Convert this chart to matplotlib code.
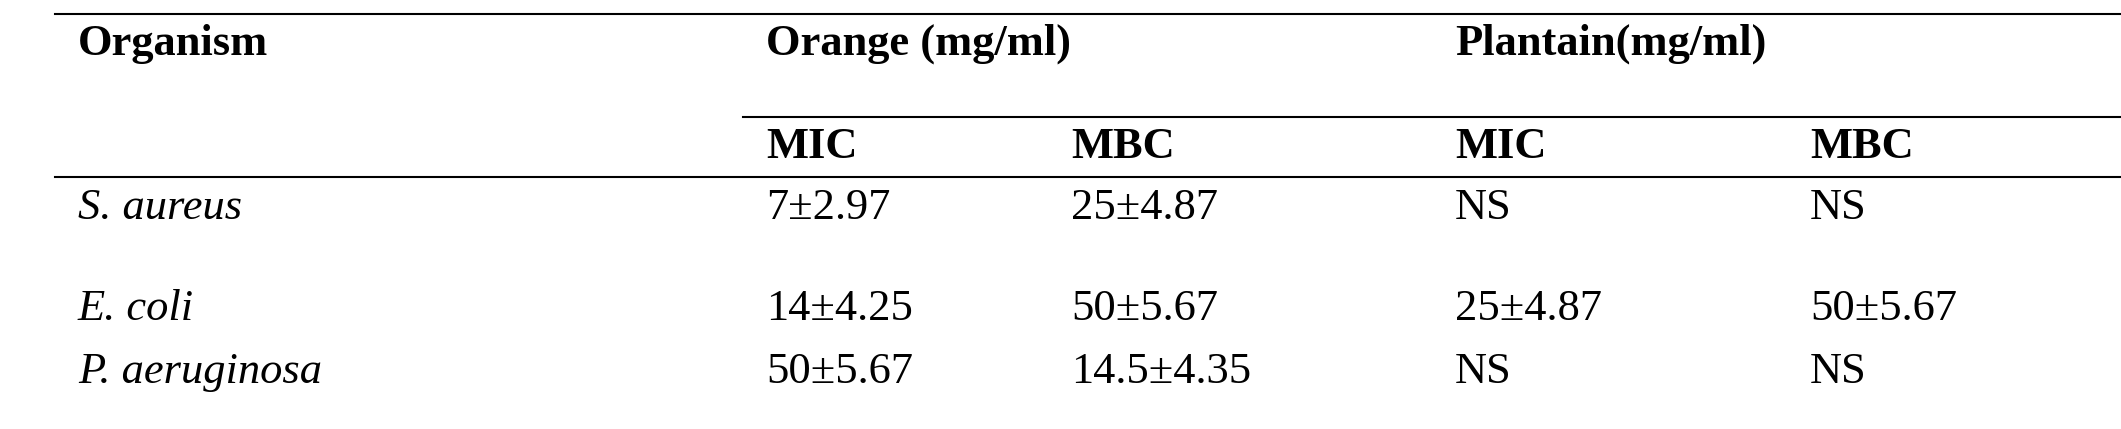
import matplotlib
matplotlib.use("Agg")
import matplotlib.pyplot as plt

groups = ["Orange (mg/ml)", "Plantain(mg/ml)"]
subcols = ["MIC", "MBC", "MIC", "MBC"]
organisms = ["S. aureus", "E. coli", "P. aeruginosa"]
values = [
    ["7±2.97", "25±4.87", "NS", "NS"],
    ["14±4.25", "50±5.67", "25±4.87", "50±5.67"],
    ["50±5.67", "14.5±4.35", "NS", "NS"],
]

W, H = 2121, 429
fig = plt.figure(figsize=(W/100, H/100), dpi=100)
ax = fig.add_axes([0, 0, 1, 1])
ax.set_xlim(0, W); ax.set_ylim(H, 0); ax.axis("off")
fam = "Liberation Serif"
fs = 32

ax.plot([55, 2121], [13.5, 13.5], color="black", lw=1.5)
ax.plot([743, 2121], [117, 117], color="black", lw=1.5)
ax.plot([55, 2121], [177, 177], color="black", lw=1.5)

ax.text(78, 44, "Organism", fontsize=fs, fontweight="bold", family=fam, va="center")
for gx, g in zip([766, 1455], groups):
    ax.text(gx, 44, g, fontsize=fs, fontweight="bold", family=fam, va="center")
colx = [766, 1071, 1455, 1810]
for cx, s in zip(colx, subcols):
    ax.text(cx, 147, s, fontsize=fs, fontweight="bold", family=fam, va="center")
rowy = [208, 309, 372]
for ry, org, vals in zip(rowy, organisms, values):
    ax.text(78, ry, org, fontsize=fs, style="italic", family=fam, va="center")
    for cx, v in zip(colx, vals):
        ax.text(cx, ry, v, fontsize=fs, family=fam, va="center")

fig.savefig("out.png", dpi=100, facecolor="white")
